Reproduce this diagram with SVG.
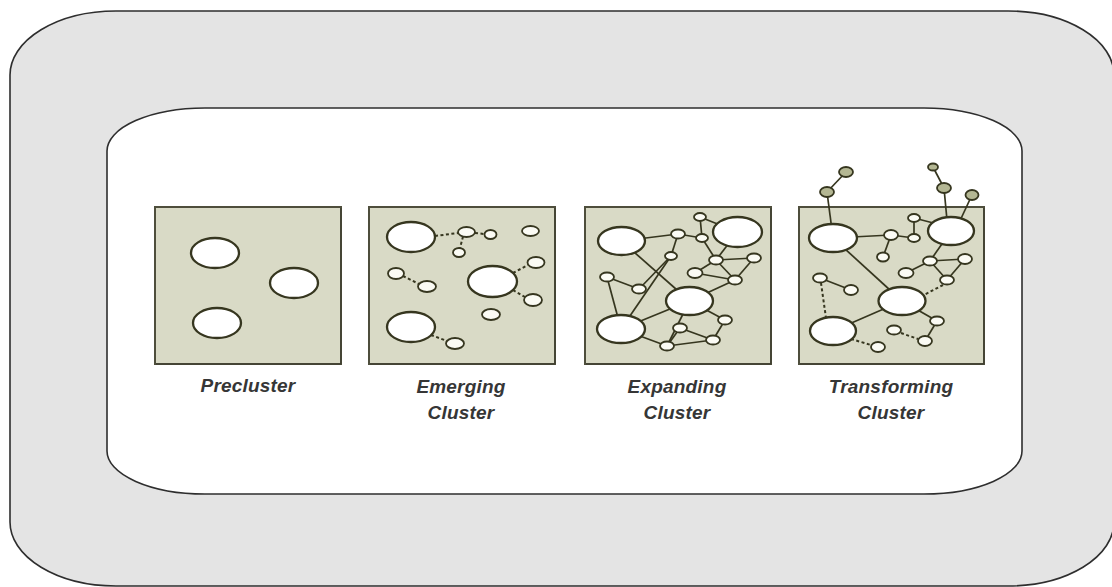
<svg xmlns="http://www.w3.org/2000/svg" width="1112" height="587" viewBox="0 0 1112 587">
  <style>
    .frame-outer { fill: #e4e4e4; stroke: #2e2e2e; stroke-width: 1.6; }
    .frame-inner { fill: #ffffff; stroke: #2e2e2e; stroke-width: 1.6; }
    .panel { fill: #d9dac6; stroke: #4e4e3c; stroke-width: 2; }
    .panel-shade { fill: none; stroke: #2e2e22; stroke-width: 1; opacity: 0.5; }
    .big { fill: #ffffff; stroke: #36361f; stroke-width: 2.3; }
    .sm { fill: #fbfbf4; stroke: #36361f; stroke-width: 1.8; }
    .out { fill: #b4b793; stroke: #36361f; stroke-width: 1.8; }
    .link { stroke: #36361f; stroke-width: 1.7; fill: none; }
    .dash { stroke: #36361f; stroke-width: 2; fill: none; stroke-dasharray: 3 2.5; }
    .label { font-family: "Liberation Sans", Arial, sans-serif; font-size: 19px; font-style: italic; font-weight: bold; fill: #363636; text-anchor: middle; letter-spacing: 0.2px; }
  </style>

  <!-- two nested rounded frames -->
  <g id="frames">
    <rect class="frame-outer" x="10" y="11" width="1104" height="575" rx="106" ry="64"/>
    <rect class="frame-inner" x="107" y="108" width="915" height="386" rx="98" ry="43"/>
  </g>

  <!-- stage 1 -->
  <g id="precluster">
    <rect class="panel" x="155" y="207" width="186" height="157"/>
    <polyline class="panel-shade" points="341,208 341,364 156,364"/>
    <ellipse class="big" cx="215" cy="253" rx="24" ry="15"/>
    <ellipse class="big" cx="294" cy="283" rx="24" ry="15"/>
    <ellipse class="big" cx="217" cy="323" rx="24" ry="15"/>
    <text class="label" x="248" y="392">Precluster</text>
  </g>

  <!-- stage 2 -->
  <g id="emerging">
    <rect class="panel" x="369" y="207" width="186" height="157"/>
    <polyline class="panel-shade" points="555,208 555,364 370,364"/>
    <g class="connectors">
      <line class="dash" x1="435" y1="236" x2="458" y2="233"/>
      <line class="dash" x1="475" y1="233" x2="484.5" y2="234"/>
      <line class="dash" x1="463" y1="236.5" x2="460" y2="248"/>
      <line class="dash" x1="403" y1="276" x2="419" y2="284"/>
      <line class="dash" x1="513" y1="273" x2="528" y2="265"/>
      <line class="dash" x1="513" y1="290" x2="525" y2="297"/>
      <line class="dash" x1="431" y1="335" x2="447" y2="341"/>
    </g>
    <ellipse class="big" cx="411" cy="237" rx="24" ry="15"/>
    <ellipse class="sm" cx="466.5" cy="232" rx="8.5" ry="5"/>
    <ellipse class="sm" cx="490.5" cy="234.5" rx="6" ry="4.5"/>
    <ellipse class="sm" cx="459" cy="252.5" rx="6" ry="4.5"/>
    <ellipse class="sm" cx="530.5" cy="231" rx="8.5" ry="5"/>
    <ellipse class="sm" cx="536" cy="262.5" rx="8.5" ry="5.5"/>
    <ellipse class="big" cx="492.5" cy="281.5" rx="24.5" ry="15.5"/>
    <ellipse class="sm" cx="396" cy="273.5" rx="8" ry="5.5"/>
    <ellipse class="sm" cx="427" cy="286.5" rx="9" ry="5.5"/>
    <ellipse class="sm" cx="533" cy="300" rx="9" ry="6"/>
    <ellipse class="sm" cx="491" cy="314.5" rx="9" ry="5.5"/>
    <ellipse class="big" cx="411" cy="327" rx="24" ry="15"/>
    <ellipse class="sm" cx="455" cy="343.5" rx="9" ry="5.5"/>
    <text class="label" x="461" y="393">Emerging</text>
    <text class="label" x="461" y="419">Cluster</text>
  </g>

  <!-- stage 3 -->
  <g id="expanding">
    <rect class="panel" x="585" y="207" width="186" height="157"/>
    <polyline class="panel-shade" points="771,208 771,364 586,364"/>
    <g class="connectors">
      <line class="link" x1="621.5" y1="241" x2="678" y2="234"/>
      <line class="link" x1="678" y1="234" x2="671" y2="256"/>
      <line class="link" x1="678" y1="234" x2="702" y2="238"/>
      <line class="link" x1="700" y1="217" x2="702" y2="238"/>
      <line class="link" x1="700" y1="217" x2="737.5" y2="232"/>
      <line class="link" x1="702" y1="238" x2="716" y2="260"/>
      <line class="link" x1="737.5" y1="232" x2="716" y2="260"/>
      <line class="link" x1="716" y1="260" x2="754" y2="258"/>
      <line class="link" x1="716" y1="260" x2="695" y2="273"/>
      <line class="link" x1="716" y1="260" x2="735" y2="280"/>
      <line class="link" x1="754" y1="258" x2="735" y2="280"/>
      <line class="link" x1="695" y1="273" x2="735" y2="280"/>
      <line class="link" x1="735" y1="280" x2="689.5" y2="301"/>
      <line class="link" x1="621.5" y1="241" x2="689.5" y2="301"/>
      <line class="link" x1="671" y1="256" x2="621" y2="329"/>
      <line class="link" x1="671" y1="256" x2="639" y2="289"/>
      <line class="link" x1="607" y1="277" x2="639" y2="289"/>
      <line class="link" x1="607" y1="277" x2="621" y2="329"/>
      <line class="link" x1="621" y1="329" x2="689.5" y2="301"/>
      <line class="link" x1="621" y1="329" x2="667" y2="346"/>
      <line class="link" x1="689.5" y1="301" x2="667" y2="346"/>
      <line class="link" x1="689.5" y1="301" x2="725" y2="320"/>
      <line class="link" x1="725" y1="320" x2="713" y2="340"/>
      <line class="link" x1="680" y1="328" x2="713" y2="340"/>
      <line class="link" x1="680" y1="328" x2="667" y2="346"/>
      <line class="link" x1="667" y1="346" x2="713" y2="340"/>
    </g>
    <ellipse class="big" cx="621.5" cy="241" rx="23.5" ry="14"/>
    <ellipse class="big" cx="737.5" cy="232" rx="24.5" ry="15"/>
    <ellipse class="big" cx="689.5" cy="301" rx="23.5" ry="14"/>
    <ellipse class="big" cx="621" cy="329" rx="24" ry="14"/>
    <ellipse class="sm" cx="700" cy="217" rx="6" ry="4"/>
    <ellipse class="sm" cx="678" cy="234" rx="7" ry="4.5"/>
    <ellipse class="sm" cx="702" cy="238" rx="6" ry="4"/>
    <ellipse class="sm" cx="671" cy="256" rx="6" ry="4"/>
    <ellipse class="sm" cx="716" cy="260" rx="7" ry="4.5"/>
    <ellipse class="sm" cx="754" cy="258" rx="7" ry="4.5"/>
    <ellipse class="sm" cx="695" cy="273" rx="7.5" ry="5"/>
    <ellipse class="sm" cx="735" cy="280" rx="7" ry="4.5"/>
    <ellipse class="sm" cx="607" cy="277" rx="7" ry="4.5"/>
    <ellipse class="sm" cx="639" cy="289" rx="7" ry="4.5"/>
    <ellipse class="sm" cx="725" cy="320" rx="7" ry="4.5"/>
    <ellipse class="sm" cx="680" cy="328" rx="7" ry="4.5"/>
    <ellipse class="sm" cx="713" cy="340" rx="7" ry="4.5"/>
    <ellipse class="sm" cx="667" cy="346" rx="7" ry="4.5"/>
    <text class="label" x="677" y="393">Expanding</text>
    <text class="label" x="677" y="419">Cluster</text>
  </g>

  <!-- stage 4 -->
  <g id="transforming">
    <rect class="panel" x="799" y="207" width="185" height="157"/>
    <polyline class="panel-shade" points="984,208 984,364 800,364"/>
    <g class="connectors">
      <line class="link" x1="846" y1="172" x2="827" y2="192"/>
      <line class="link" x1="827" y1="192" x2="833" y2="238"/>
      <line class="link" x1="933" y1="167" x2="944" y2="188"/>
      <line class="link" x1="944" y1="188" x2="948" y2="231"/>
      <line class="link" x1="972" y1="195" x2="958" y2="225"/>
      <line class="link" x1="833" y1="238" x2="891" y2="235"/>
      <line class="link" x1="891" y1="235" x2="914" y2="238"/>
      <line class="link" x1="914" y1="218" x2="914" y2="238"/>
      <line class="link" x1="914" y1="218" x2="945" y2="226"/>
      <line class="link" x1="891" y1="235" x2="883" y2="257"/>
      <line class="link" x1="833" y1="238" x2="902" y2="301"/>
      <line class="link" x1="930" y1="261" x2="951" y2="231"/>
      <line class="link" x1="930" y1="261" x2="965" y2="259"/>
      <line class="link" x1="930" y1="261" x2="906" y2="273"/>
      <line class="link" x1="930" y1="261" x2="947" y2="280"/>
      <line class="link" x1="965" y1="259" x2="947" y2="280"/>
      <line class="link" x1="820" y1="278" x2="851" y2="290"/>
      <line class="link" x1="833" y1="331" x2="902" y2="301"/>
      <line class="link" x1="902" y1="301" x2="937" y2="321"/>
      <line class="link" x1="937" y1="321" x2="925" y2="341"/>
      <line class="dash" x1="943" y1="285" x2="920" y2="297"/>
      <line class="dash" x1="821" y1="283" x2="826" y2="318"/>
      <line class="dash" x1="851" y1="339" x2="871" y2="345"/>
      <line class="dash" x1="901" y1="333" x2="918" y2="339"/>
    </g>
    <ellipse class="out" cx="846" cy="172" rx="7" ry="5"/>
    <ellipse class="out" cx="827" cy="192" rx="7" ry="5"/>
    <ellipse class="out" cx="933" cy="167" rx="5" ry="3.5"/>
    <ellipse class="out" cx="944" cy="188" rx="7" ry="5"/>
    <ellipse class="out" cx="972" cy="195" rx="6.5" ry="5"/>
    <ellipse class="big" cx="833" cy="238" rx="24" ry="14"/>
    <ellipse class="big" cx="951" cy="231" rx="23" ry="14"/>
    <ellipse class="big" cx="902" cy="301" rx="23.5" ry="14"/>
    <ellipse class="big" cx="833" cy="331" rx="23" ry="14"/>
    <ellipse class="sm" cx="914" cy="218" rx="6" ry="4"/>
    <ellipse class="sm" cx="891" cy="235" rx="7" ry="5"/>
    <ellipse class="sm" cx="914" cy="238" rx="6" ry="4"/>
    <ellipse class="sm" cx="883" cy="257" rx="6" ry="4.5"/>
    <ellipse class="sm" cx="930" cy="261" rx="7" ry="4.5"/>
    <ellipse class="sm" cx="965" cy="259" rx="7" ry="5"/>
    <ellipse class="sm" cx="906" cy="273" rx="7.5" ry="5"/>
    <ellipse class="sm" cx="947" cy="280" rx="7" ry="4.5"/>
    <ellipse class="sm" cx="820" cy="278" rx="7" ry="4.5"/>
    <ellipse class="sm" cx="851" cy="290" rx="7" ry="5"/>
    <ellipse class="sm" cx="937" cy="321" rx="7" ry="4.5"/>
    <ellipse class="sm" cx="894" cy="330" rx="7" ry="4.5"/>
    <ellipse class="sm" cx="925" cy="341" rx="7" ry="5"/>
    <ellipse class="sm" cx="878" cy="347" rx="7" ry="5"/>
    <text class="label" x="891" y="393">Transforming</text>
    <text class="label" x="891" y="419">Cluster</text>
  </g>
</svg>
